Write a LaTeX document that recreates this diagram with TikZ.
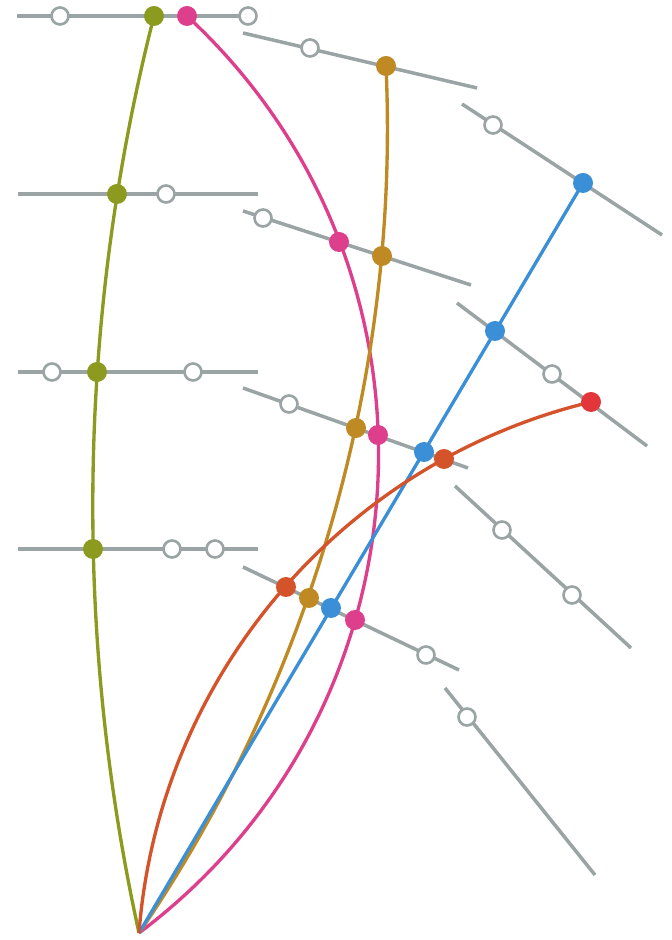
\documentclass[tikz,border=0pt]{standalone}
\usepackage{xcolor}
\usepackage{tikz}
\usetikzlibrary{backgrounds}
\definecolor{railgray}{HTML}{9AA4A4}
\definecolor{olivegreen}{HTML}{8C9A1F}
\definecolor{rosepink}{HTML}{DE3F8C}
\definecolor{ochre}{HTML}{BF8A23}
\definecolor{skyblue}{HTML}{3B8FD6}
\definecolor{rustorange}{HTML}{D4532A}
\definecolor{brightred}{HTML}{E2363A}
\tikzset{
  rail/.style={draw=railgray,line width=2pt},
  arcline/.style={line width=1.9pt},
  knot/.style={circle,inner sep=0pt,minimum size=0.4cm},
  ring/.style={circle,draw=railgray,fill=white,line width=1.5pt,
    inner sep=0pt,minimum size=0.34cm}
}

\begin{document}
\begin{tikzpicture}[x=0.02cm,y=0.02cm]
\useasboundingbox (0,0) rectangle (672,940);
% common origin of the curves
\coordinate (o) at (139,7);
% rail end points
\coordinate (h1a) at (17,924);  \coordinate (h1b) at (248,924);
\coordinate (h2a) at (18,746);  \coordinate (h2b) at (258,746);
\coordinate (h3a) at (18,568);  \coordinate (h3b) at (258,568);
\coordinate (h4a) at (18,391);  \coordinate (h4b) at (258,391);
\coordinate (m1a) at (243,907); \coordinate (m1b) at (477,852);
\coordinate (m2a) at (243,729); \coordinate (m2b) at (471,655);
\coordinate (m3a) at (243,552); \coordinate (m3b) at (468,472);
\coordinate (m4a) at (243,373); \coordinate (m4b) at (459,270);
\coordinate (s1a) at (462,836); \coordinate (s1b) at (662,705);
\coordinate (s2a) at (457,637); \coordinate (s2b) at (647,494);
\coordinate (s3a) at (455,454); \coordinate (s3b) at (631,292);
\coordinate (s4a) at (445,252); \coordinate (s4b) at (595,65);

% filled dots on the curves
\node[knot,fill=olivegreen] (g1) at (154,924) {};
\node[knot,fill=olivegreen] (g2) at (117,746) {};
\node[knot,fill=olivegreen] (g3) at (97,568) {};
\node[knot,fill=olivegreen] (g4) at (93,391) {};
\node[knot,fill=rosepink] (p1) at (187,924) {};
\node[knot,fill=rosepink] (p2) at (339,698) {};
\node[knot,fill=rosepink] (p3) at (378,505) {};
\node[knot,fill=rosepink] (p4) at (355,320) {};
\node[knot,fill=ochre] (y1) at (386,874) {};
\node[knot,fill=ochre] (y2) at (382,684) {};
\node[knot,fill=ochre] (y3) at (356,512) {};
\node[knot,fill=ochre] (y4) at (309,342) {};
\node[knot,fill=skyblue] (b1) at (583,757) {};
\node[knot,fill=skyblue] (b2) at (495,609) {};
\node[knot,fill=skyblue] (b3) at (424,488) {};
\node[knot,fill=skyblue] (b4) at (331,332) {};
\node[knot,fill=brightred] (r1) at (591,538) {};
\node[knot,fill=rustorange] (r2) at (444,481) {};
\node[knot,fill=rustorange] (r3) at (286,353) {};

% open rings on the rails
\node[ring] (w1) at (60,924) {};
\node[ring] (w2) at (248,924) {};
\node[ring] (w3) at (166,746) {};
\node[ring] (w4) at (52,568) {};
\node[ring] (w5) at (193,568) {};
\node[ring] (w6) at (172,391) {};
\node[ring] (w7) at (215,391) {};
\node[ring] (w8) at (310,892) {};
\node[ring] (w9) at (263,722) {};
\node[ring] (w10) at (289,536) {};
\node[ring] (w11) at (426,285) {};
\node[ring] (w12) at (493,815) {};
\node[ring] (w13) at (552,566) {};
\node[ring] (w14) at (502,410) {};
\node[ring] (w15) at (572,345) {};
\node[ring] (w16) at (467,223) {};

\begin{scope}[on background layer]
% rails
\foreach \r in {h1,h2,h3,h4,m1,m2,m3,m4,s1,s2,s3,s4}
  \draw[rail] (\r a) -- (\r b);
% curves
\draw[arcline,olivegreen] (o) to[out=102.4,in=255.7,looseness=0.86] (g1.center);
\draw[arcline,rosepink] (o) to[out=36.9,in=-42.8,looseness=1.04] (p1.center);
\draw[arcline,ochre] (o) to[out=55.6,in=272.6,looseness=0.87] (y1.center);
\draw[arcline,skyblue] (o) -- (b1.center);
\draw[arcline,rustorange] (o) to[out=85.6,in=193.5,looseness=0.94] (r1.center);
\end{scope}
\end{tikzpicture}
\end{document}
